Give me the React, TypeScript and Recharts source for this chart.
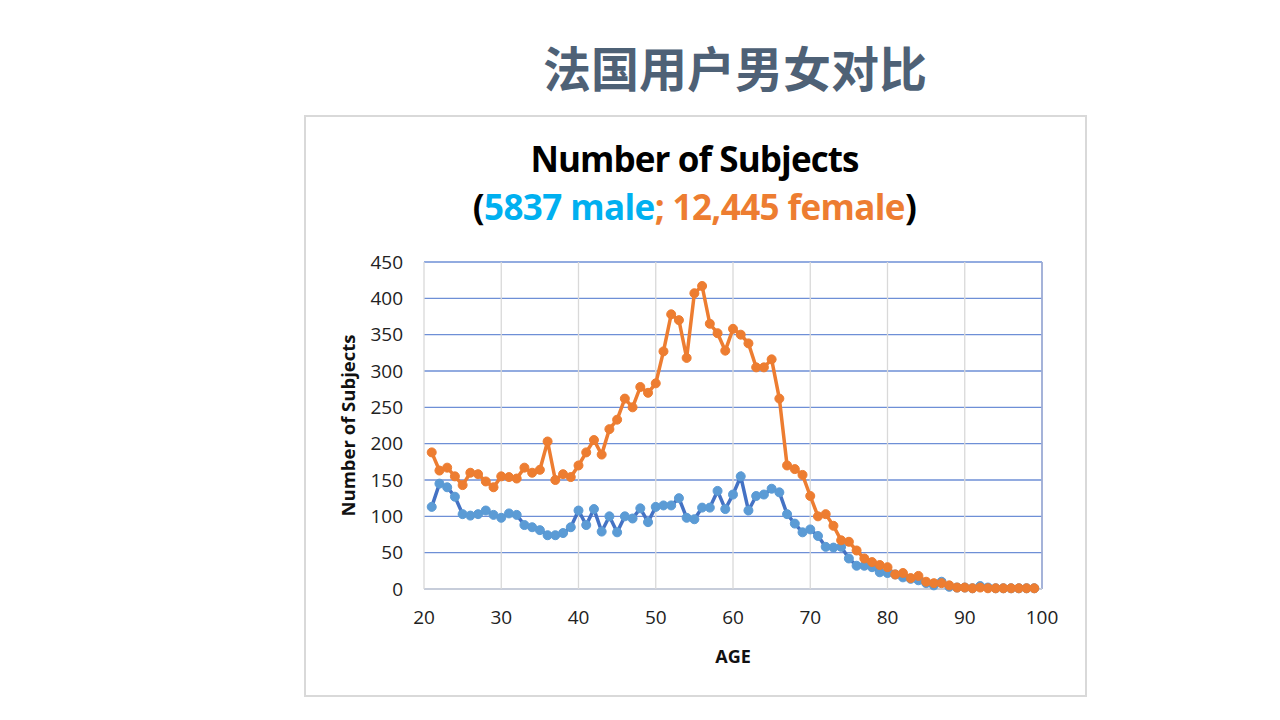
import React from 'react';
import { LineChart, Line, XAxis, YAxis, CartesianGrid, ReferenceLine } from 'recharts';

const ages = [
  21, 22, 23, 24, 25, 26, 27, 28, 29, 30, 31, 32, 33, 34, 35, 36, 37, 38, 39, 40,
  41, 42, 43, 44, 45, 46, 47, 48, 49, 50, 51, 52, 53, 54, 55, 56, 57, 58, 59, 60,
  61, 62, 63, 64, 65, 66, 67, 68, 69, 70, 71, 72, 73, 74, 75, 76, 77, 78, 79, 80,
  81, 82, 83, 84, 85, 86, 87, 88, 89, 90, 91, 92, 93, 94, 95, 96, 97, 98, 99,
];

const male = [
  113, 145, 140, 127, 103, 101, 103, 108, 102, 98, 104, 102, 88, 85, 81, 74, 74, 77, 85, 108,
  88, 110, 79, 100, 78, 100, 97, 111, 92, 113, 115, 115, 125, 98, 96, 112, 112, 135, 110, 130,
  155, 108, 128, 130, 138, 133, 103, 90, 78, 82, 73, 58, 57, 58, 42, 32, 32, 30, 23, 22,
  20, 16, 14, 12, 8, 5, 10, 3, 2, 2, 1, 4, 2, 1, 1, 1, 1, 1, 1,
];

const female = [
  188, 163, 167, 155, 143, 160, 158, 148, 140, 155, 154, 152, 167, 160, 164, 203, 150, 158, 154, 170,
  188, 205, 185, 220, 233, 262, 250, 278, 270, 283, 327, 378, 370, 318, 407, 417, 365, 352, 328, 358,
  350, 338, 305, 305, 316, 262, 170, 165, 157, 128, 100, 103, 87, 67, 65, 53, 42, 37, 33, 30,
  20, 22, 15, 18, 10, 8, 8, 5, 2, 2, 1, 2, 1, 1, 1, 1, 1, 1, 1,
];

const xTicks = [20, 30, 40, 50, 60, 70, 80, 90, 100];
const yTicks = [0, 50, 100, 150, 200, 250, 300, 350, 400, 450];

const rows = ages.map((a, i) => ({ age: a, male: male[i], female: female[i] }));

const tickStyle = { fill: '#222', fontSize: 19, fontFamily: '"Open Sans", sans-serif' };

export default function App() {
  return (
    <div style={{ position: 'fixed', left: 0, top: 0, width: 1280, height: 720, background: '#fff', fontFamily: '"Open Sans", sans-serif' }}>
      <div style={{ position: 'absolute', left: 0, width: 1280, top: 34, textAlign: 'center', paddingLeft: 190, boxSizing: 'border-box',
        fontFamily: '"Noto Sans CJK SC", sans-serif', fontWeight: 700, fontSize: 48, color: '#4E6176', lineHeight: '64px' }}>
        法国用户男女对比
      </div>
      <div style={{ position: 'absolute', left: 304, top: 115, width: 779, height: 578, border: '2px solid #D9D9D9' }} />
      <div style={{ position: 'absolute', left: 304, width: 781, top: 135, textAlign: 'center', fontWeight: 700, fontSize: 35, color: '#000', lineHeight: '48px', letterSpacing: -0.9 }}>
        Number of Subjects
      </div>
      <div style={{ position: 'absolute', left: 304, width: 781, top: 183, textAlign: 'center', fontWeight: 700, fontSize: 35, color: '#000', lineHeight: '48px', letterSpacing: -0.6 }}>
        (<span style={{ color: '#00B0F0' }}>5837 male</span><span style={{ color: '#ED7D31' }}>; 12,445 female</span>)
      </div>
      <div style={{ position: 'absolute', left: 0, top: 0 }}>
        <LineChart width={1280} height={720} data={rows} margin={{ top: 262, left: 364, right: 238, bottom: 101 }}>
          <CartesianGrid vertical={false} stroke="#6E8FD6" strokeWidth={1.3} />
          <CartesianGrid horizontal={false} stroke="#D9D9D9" strokeWidth={1.3} />
          <ReferenceLine x={100} stroke="#8FA2D4" strokeWidth={1.5} />
          <XAxis dataKey="age" type="number" domain={[20, 100]} ticks={xTicks} tickLine={false} tickSize={0}
            tickMargin={22} axisLine={{ stroke: '#D9D9D9', strokeWidth: 1.5 }} tick={tickStyle} height={30}
            label={{ value: 'AGE', position: 'insideBottom', offset: -44, fill: '#111', fontSize: 18, fontWeight: 700 }} />
          <YAxis type="number" domain={[0, 450]} ticks={yTicks} tickLine={false} tickSize={0} tickMargin={21}
            axisLine={false} tick={tickStyle} width={60}
            label={{ value: 'Number of Subjects', angle: -90, position: 'insideLeft', offset: -16, fill: '#111', fontSize: 18.5, fontWeight: 700, style: { textAnchor: 'middle' } }} />
          <Line dataKey="male" stroke="#4472C4" strokeWidth={3.5} isAnimationActive={false}
            dot={{ r: 4.5, fill: '#5B9BD5', stroke: '#5B9BD5', strokeWidth: 1 }} />
          <Line dataKey="female" stroke="#ED7D31" strokeWidth={3.5} isAnimationActive={false}
            dot={{ r: 4.5, fill: '#ED7D31', stroke: '#ED7D31', strokeWidth: 1 }} />
        </LineChart>
      </div>
    </div>
  );
}
